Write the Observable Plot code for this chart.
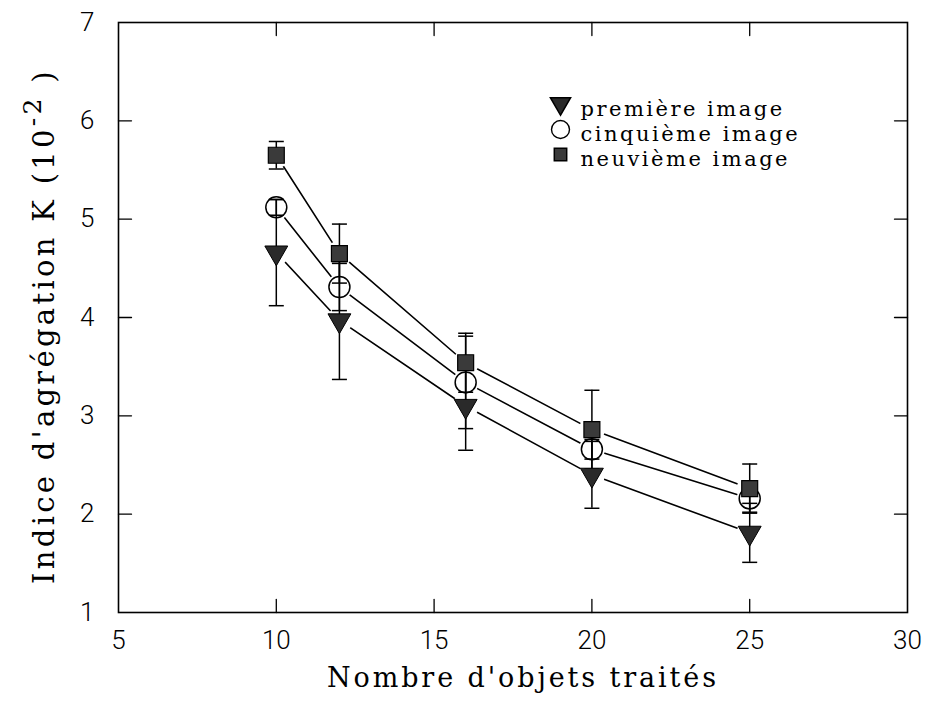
<!DOCTYPE html>
<html>
<head>
<meta charset="utf-8">
<script src="https://cdn.jsdelivr.net/npm/d3@7"></script>
<script src="https://cdn.jsdelivr.net/npm/@observablehq/plot@0.6"></script>
<style>
  body { margin: 0; background: #fff; }
  #chart svg { display: block; }
</style>
</head>
<body>
<div id="chart"></div>
<script>
// ---- data ----
const counts = [10, 12, 16, 20, 25];
const premiere = [4.66, 3.97, 3.10, 2.40, 1.81];
const premiereErr = [0.54, 0.60, 0.45, 0.34, 0.30];
const cinquieme = [5.12, 4.31, 3.34, 2.66, 2.16];
const cinquiemeErr = [0.08, 0.24, 0.47, 0.10, 0.14];
const neuvieme = [5.65, 4.65, 3.54, 2.86, 2.26];
const neuviemeErr = [0.14, 0.30, 0.30, 0.40, 0.25];
const seriesNames = ["première image", "cinquième image", "neuvième image"];
const xTicks = [5, 10, 15, 20, 25, 30];
const yTicks = [1, 2, 3, 4, 5, 6, 7];
const xInnerTicks = [10, 15, 20, 25];
const yInnerTicks = [2, 3, 4, 5, 6];
const xLabel = "Nombre d'objets traités";
const yLabel = "Indice d'agrégation K (10";
const yLabelSup = "-2";

// ---- table ----
const seriesVals = [premiere, cinquieme, neuvieme];
const seriesErrs = [premiereErr, cinquiemeErr, neuviemeErr];
const rows = [];
seriesNames.forEach((name, s) => {
  counts.forEach((c, i) => rows.push({series: name, s, x: c, y: seriesVals[s][i], err: seriesErrs[s][i]}));
});
const bySeries = s => rows.filter(d => d.s === s);

const capSymbol = {draw(ctx) { ctx.moveTo(-7.5, 0); ctx.lineTo(7.5, 0); }};
const tickShape = {draw(ctx, l) { ctx.moveTo(0, 0); ctx.lineTo(0, -l); }};

const serifFont = "DejaVu Serif";
const sansFont = "Roboto, 'Liberation Sans', sans-serif";

const legendRows = seriesNames.map((name, s) => ({name, s}));

const plot = Plot.plot({
  width: 929,
  height: 702,
  marginLeft: 118,
  marginRight: 22,
  marginTop: 22,
  marginBottom: 90,
  style: {background: "#fff", color: "#000"},
  x: {domain: [5, 30]},
  y: {domain: [1, 7]},
  marks: [
    // connecting lines
    ...[0, 1, 2].map(s => Plot.line(bySeries(s), {x: "x", y: "y", stroke: "#000", strokeWidth: 1.6})),
    // white gaps around markers
    Plot.dot(rows, {x: "x", y: "y", r: 13, fill: "#fff", stroke: "none"}),
    // error bars
    Plot.ruleX(rows, {x: "x", y1: d => d.y - d.err, y2: d => d.y + d.err, stroke: "#000", strokeWidth: 1.5}),
    Plot.dot(rows, {x: "x", y: d => d.y - d.err, symbol: capSymbol, stroke: "#000", strokeWidth: 1.5, fill: "none"}),
    Plot.dot(rows, {x: "x", y: d => d.y + d.err, symbol: capSymbol, stroke: "#000", strokeWidth: 1.5, fill: "none"}),
    // markers
    Plot.dot(bySeries(0), {x: "x", y: "y", symbol: "triangle", rotate: 180, r: 8.5, fill: "#2a2a2a", stroke: "#000", strokeWidth: 1}),
    Plot.dot(bySeries(1), {x: "x", y: "y", symbol: "circle", r: 10.5, fill: "#fff", fillOpacity: 0, stroke: "#000", strokeWidth: 1.5}),
    Plot.dot(bySeries(2), {x: "x", y: "y", symbol: "square", r: 9, fill: "#3a3a3a", stroke: "#000", strokeWidth: 1.2}),
    // frame and inward ticks
    Plot.frame({stroke: "#000", strokeWidth: 1.6}),
    Plot.vectorX(xInnerTicks, {frameAnchor: "bottom", length: 13, rotate: 0, anchor: "start", shape: tickShape, stroke: "#000", strokeWidth: 1.3}),
    Plot.vectorX(xInnerTicks, {frameAnchor: "top", length: 13, rotate: 180, anchor: "start", shape: tickShape, stroke: "#000", strokeWidth: 1.3}),
    Plot.vectorY(yInnerTicks, {frameAnchor: "left", length: 13, rotate: 90, anchor: "start", shape: tickShape, stroke: "#000", strokeWidth: 1.3}),
    Plot.vectorY(yInnerTicks, {frameAnchor: "right", length: 13, rotate: -90, anchor: "start", shape: tickShape, stroke: "#000", strokeWidth: 1.3}),
    // axes (labels only)
    Plot.axisX(xTicks, {tickSize: 0, tickPadding: 18, fontSize: 26, fontFamily: sansFont, fontWeight: 300, label: null, tickFormat: "d"}),
    Plot.axisY(yTicks, {tickSize: 0, tickPadding: 24, fontSize: 26, fontFamily: sansFont, fontWeight: 300, label: null, tickFormat: "d"}),
    Plot.text([xLabel], {frameAnchor: "bottom", dx: 10, dy: 74, text: d => d, fontSize: 27, fontFamily: serifFont, fill: "#000"}),
    // legend
    Plot.dot(legendRows.filter(d => d.s === 0), {frameAnchor: "top-left", dx: 442, dy: 81, symbol: "triangle", rotate: 180, r: 7.5, fill: "#2a2a2a", stroke: "#000"}),
    Plot.dot(legendRows.filter(d => d.s === 1), {frameAnchor: "top-left", dx: 442, dy: 107, symbol: "circle", r: 9, fill: "none", stroke: "#000", strokeWidth: 1.4}),
    Plot.dot(legendRows.filter(d => d.s === 2), {frameAnchor: "top-left", dx: 442, dy: 132, symbol: "square", r: 7, fill: "#3a3a3a", stroke: "#000"}),
    ...[0, 1, 2].map(s => Plot.text(legendRows.filter(d => d.s === s), {frameAnchor: "top-left", dx: 462, dy: 79 + 25 * s, text: "name", textAnchor: "start", fontSize: 21, fontFamily: serifFont, fill: "#000"}))
  ]
});

// letter spacing for the serif texts
d3.select(plot).selectAll("g[font-family='DejaVu Serif']").each(function() {
  const fs = +this.getAttribute("font-size");
  d3.select(this).attr("letter-spacing", fs >= 25 ? 2.9 : 2.5);
});

document.getElementById("chart").appendChild(plot);

// rotated y label with superscript
const yl = d3.select(plot).append("text")
  .attr("transform", "translate(54,326) rotate(-90)")
  .attr("text-anchor", "middle")
  .attr("font-family", serifFont)
  .attr("font-size", 29)
  .attr("letter-spacing", 3.3)
  .attr("fill", "#000");
yl.append("tspan").text(yLabel);
yl.append("tspan").attr("dy", -13).attr("font-size", 25).text(yLabelSup);
yl.append("tspan").attr("dy", 13).text(" )");
</script>
</body>
</html>
